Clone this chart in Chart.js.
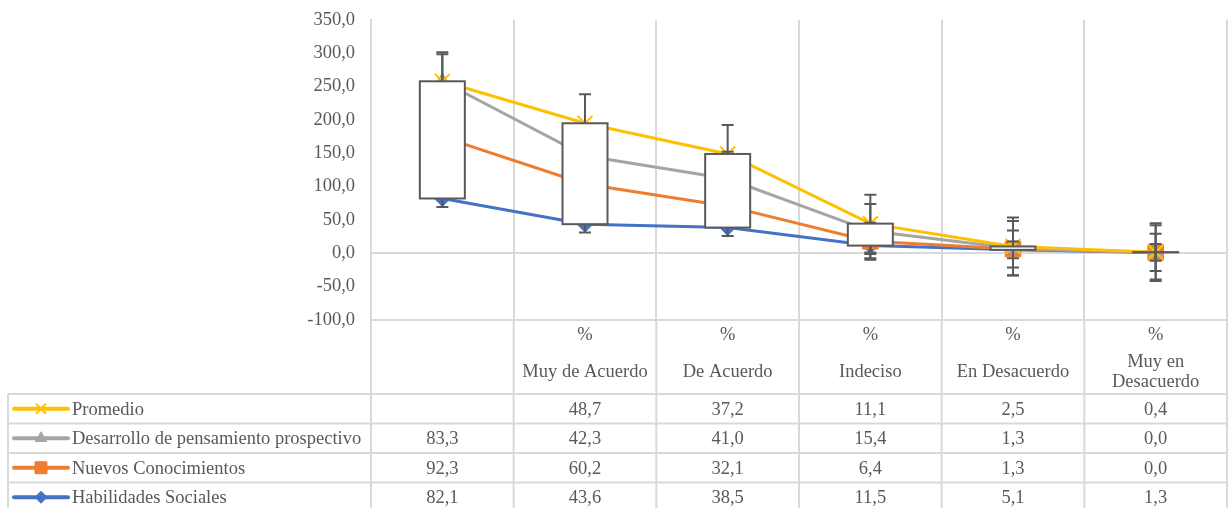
<!DOCTYPE html>
<html>
<head>
<meta charset="utf-8">
<script src="https://cdn.jsdelivr.net/npm/chart.js@4/dist/chart.umd.min.js"></script>
<style>
  html, body { margin: 0; padding: 0; background: #ffffff; }
  canvas { display: block; }
</style>
</head>
<body>
<canvas id="chart" width="1228" height="508"></canvas>
<script>
// Category headers: first line is the unit, the rest is the answer text
const categories = [[''], ['%', 'Muy de Acuerdo'], ['%', 'De Acuerdo'], ['%', 'Indeciso'], ['%', 'En Desacuerdo'], ['%', 'Muy en', 'Desacuerdo']];

// Series values (percent), bottom of the stack first
const habilidadesSociales = [82.1, 43.6, 38.5, 11.5, 5.1, 1.3];
const nuevosConocimientos = [92.3, 60.2, 32.1, 6.4, 1.3, 0.0];
const pensamientoProspectivo = [83.3, 42.3, 41.0, 15.4, 1.3, 0.0];
const promedio = [null, 48.7, 37.2, 11.1, 2.5, 0.4];

const seriesNames = ['Habilidades Sociales', 'Nuevos Conocimientos', 'Desarrollo de pensamiento prospectivo', 'Promedio'];
const seriesColors = ['#4472C4', '#ED7D31', '#A5A5A5', '#FFC000'];
const seriesMarkers = ['rectRot', 'rect', 'triangle', 'crossRot'];

// Standard error shown as error bars, one amount per series
const standardError = [12.6, 27.8, 40.6, 43.4];

// Value axis ticks
const yTicks = [-100, -50, 0, 50, 100, 150, 200, 250, 300, 350];

const TEXT = '#595959';
const GRID = '#d9d9d9';
const FONT = "'Liberation Serif', 'Times New Roman', serif";
const FONT_SIZE = 18.5;

const rawSeries = [habilidadesSociales, nuevosConocimientos, pensamientoProspectivo, promedio];

// Stacked line: each series sits on the running total of the ones below (blank counts as zero)
const stackedSeries = [];
let runningTotal = categories.map(() => 0);
rawSeries.forEach(s => {
  runningTotal = runningTotal.map((v, i) => v + (s[i] == null ? 0 : s[i]));
  stackedSeries.push(runningTotal.slice());
});

const fmt = v => v.toFixed(1).replace('.', ',');

// marker radius on the plot and in the table keys
const plotRadius = { rectRot: 8, rect: 11, triangle: 8.5, crossRot: 10.5 };
const keyRadius = { rectRot: 6, rect: 8.5, triangle: 6.5, crossRot: 7 };
const markerBorder = style => (style === 'crossRot' ? 2 : 1);

function drawMarker(ctx, style, x, y, color) {
  ctx.save();
  ctx.fillStyle = color;
  ctx.strokeStyle = color;
  ctx.lineWidth = markerBorder(style);
  const r = keyRadius[style];
  if (Chart.helpers && Chart.helpers.drawPoint) {
    Chart.helpers.drawPoint(ctx, { pointStyle: style, radius: r, rotation: 0, borderWidth: markerBorder(style) }, x, y);
  } else {
    ctx.beginPath();
    ctx.arc(x, y, r, 0, Math.PI * 2);
    ctx.fill();
  }
  ctx.restore();
}

// Error bars and up/down bars drawn over the lines, data table under the plot
const overlayPlugin = {
  id: 'overlay',
  afterDatasetsDraw(chart) {
    const ctx = chart.ctx;
    const xs = chart.scales.x, ys = chart.scales.y;
    ctx.save();
    ctx.strokeStyle = TEXT;
    ctx.lineWidth = 2;
    stackedSeries.forEach((vals, k) => {
      vals.forEach((v, i) => {
        const xc = xs.getPixelForValue(i);
        const top = ys.getPixelForValue(v + standardError[k]);
        const bot = ys.getPixelForValue(v - standardError[k]);
        ctx.beginPath();
        ctx.moveTo(xc, top); ctx.lineTo(xc, bot);
        ctx.moveTo(xc - 6, top); ctx.lineTo(xc + 6, top);
        ctx.moveTo(xc - 6, bot); ctx.lineTo(xc + 6, bot);
        ctx.stroke();
      });
    });
    // up/down bars between the first and the last series
    const first = stackedSeries[0], last = stackedSeries[stackedSeries.length - 1];
    const halfW = 22.5;
    first.forEach((lo, i) => {
      const xc = xs.getPixelForValue(i);
      const yA = ys.getPixelForValue(Math.max(lo, last[i]));
      const yB = ys.getPixelForValue(Math.min(lo, last[i]));
      ctx.fillStyle = '#ffffff';
      ctx.fillRect(xc - halfW, yA, halfW * 2, yB - yA);
      ctx.strokeStyle = TEXT;
      ctx.lineWidth = 2;
      ctx.strokeRect(xc - halfW, yA, halfW * 2, yB - yA);
    });
    ctx.restore();
  },
  afterDraw(chart) {
    const ctx = chart.ctx;
    const xs = chart.scales.x;
    const area = chart.chartArea;
    const band = (area.right - area.left) / categories.length;
    const headTop = area.bottom;
    const headBottom = 394;
    const rowH = 29.5;
    const tableLeft = 8;
    const bottom = 520;

    ctx.save();
    ctx.strokeStyle = GRID;
    ctx.lineWidth = 2;
    ctx.beginPath();
    // vertical lines of header and table
    for (let i = 0; i <= categories.length; i++) {
      const x = area.left + band * i;
      ctx.moveTo(x, headTop); ctx.lineTo(x, bottom);
    }
    ctx.moveTo(tableLeft, headBottom); ctx.lineTo(tableLeft, bottom);
    // horizontal lines
    ctx.moveTo(area.left, headTop); ctx.lineTo(area.right, headTop);
    for (let r = 0; r <= seriesNames.length; r++) {
      const y = headBottom + rowH * r;
      ctx.moveTo(tableLeft, y); ctx.lineTo(area.right, y);
    }
    ctx.stroke();

    ctx.fillStyle = TEXT;
    ctx.font = FONT_SIZE + 'px ' + FONT;
    ctx.textAlign = 'center';
    ctx.textBaseline = 'middle';

    // header labels
    categories.forEach((lines, i) => {
      const xc = xs.getPixelForValue(i);
      if (lines[0]) ctx.fillText(lines[0], xc, 335);
      const rest = lines.slice(1);
      const mid = 372;
      rest.forEach((t, j) => {
        ctx.fillText(t, xc, mid + (j - (rest.length - 1) / 2) * 20);
      });
    });

    // data rows, top row is the last series
    for (let r = 0; r < seriesNames.length; r++) {
      const k = seriesNames.length - 1 - r;
      const yc = headBottom + rowH * r + rowH / 2;
      // legend key
      ctx.save();
      ctx.strokeStyle = seriesColors[k];
      ctx.lineWidth = 4;
      ctx.lineCap = 'round';
      ctx.beginPath();
      ctx.moveTo(14, yc); ctx.lineTo(68, yc);
      ctx.stroke();
      ctx.restore();
      drawMarker(ctx, seriesMarkers[k], 41, yc, seriesColors[k]);

      ctx.fillStyle = TEXT;
      ctx.textAlign = 'left';
      ctx.fillText(seriesNames[k], 72, yc + 1);
      ctx.textAlign = 'center';
      rawSeries[k].forEach((v, i) => {
        if (v == null) return;
        ctx.fillText(fmt(v), xs.getPixelForValue(i), yc + 1);
      });
    }
    ctx.restore();
  }
};

Chart.defaults.font.family = FONT;
Chart.defaults.font.size = FONT_SIZE;
Chart.defaults.color = TEXT;

const datasets = stackedSeries.map((vals, k) => ({
  label: seriesNames[k],
  data: vals,
  borderColor: seriesColors[k],
  backgroundColor: seriesColors[k],
  borderWidth: 3,
  pointStyle: seriesMarkers[k],
  pointRadius: plotRadius[seriesMarkers[k]],
  pointBorderWidth: markerBorder(seriesMarkers[k]),
  pointBorderColor: seriesColors[k],
  pointBackgroundColor: seriesColors[k],
  tension: 0,
  fill: false,
  order: stackedSeries.length - 1 - k
}));

new Chart(document.getElementById('chart'), {
  type: 'line',
  data: { labels: categories.map(c => c.join(' ')), datasets: datasets },
  options: {
    responsive: false,
    animation: false,
    devicePixelRatio: 1,
    layout: { autoPadding: false, padding: { top: 19.7, right: 1, bottom: 188, left: 0 } },
    plugins: { legend: { display: false }, tooltip: { enabled: false } },
    scales: {
      x: {
        type: 'category',
        offset: true,
        ticks: { display: false },
        border: { display: false },
        grid: { offset: true, color: GRID, lineWidth: 2, drawTicks: false },
        afterFit: s => { s.height = 0; }
      },
      y: {
        min: yTicks[0],
        max: yTicks[yTicks.length - 1],
        afterBuildTicks: s => { s.ticks = yTicks.map(v => ({ value: v })); },
        ticks: { padding: 16, callback: v => fmt(v), color: TEXT, font: { size: FONT_SIZE, family: FONT } },
        border: { display: true, color: GRID, width: 2 },
        grid: {
          drawTicks: false,
          lineWidth: 2,
          color: c => (c.tick && (c.tick.value === 0 || c.tick.value === yTicks[0])) ? GRID : 'rgba(0,0,0,0)'
        },
        afterFit: s => { s.width = 371; s.paddingTop = 0; s.paddingBottom = 0; }
      }
    }
  },
  plugins: [overlayPlugin]
});
</script>
</body>
</html>
